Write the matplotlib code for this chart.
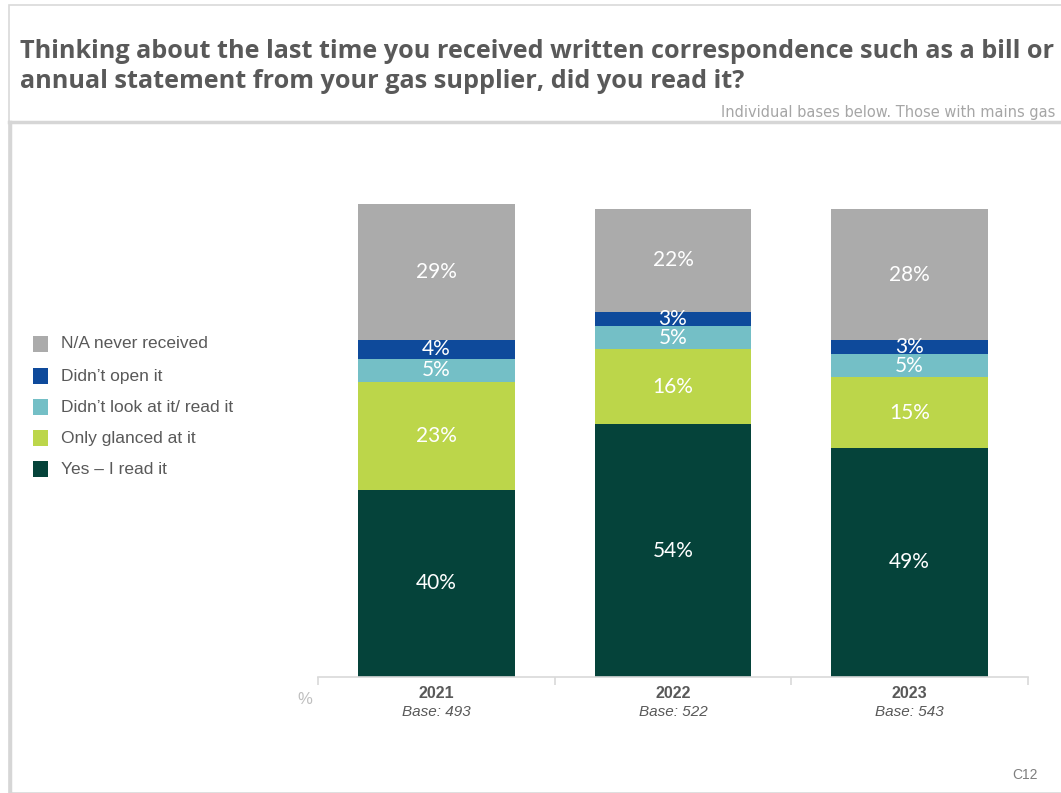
import matplotlib.pyplot as plt
from matplotlib.patches import Rectangle
from matplotlib.lines import Line2D

# survey data
years = ['2021', '2022', '2023']
bases = [493, 522, 543]
categories = ['Yes \u2013 I read it', 'Only glanced at it', 'Didn\u2019t look at it/ read it',
              'Didn\u2019t open it', 'N/A never received']
yes_read = [40, 54, 49]
glanced = [23, 16, 15]
not_looked = [5, 5, 5]
not_opened = [4, 3, 3]
never_received = [29, 22, 28]
colors = ['#05433A', '#BCD64A', '#74BFC6', '#0E4A9B', '#ABABAB']

series = [yes_read, glanced, not_looked, not_opened, never_received]

W, H = 1061, 793
fig = plt.figure(figsize=(W / 100, H / 100), dpi=100)

# frame around the slide content
fig.add_artist(Rectangle((8.5 / W, 0), (W - 8) / W, 1 - 5 / H, transform=fig.transFigure,
                         fill=False, edgecolor='#D9D9D9', linewidth=1.2))
fig.add_artist(Line2D([8.5 / W, 1], [1 - 122 / H, 1 - 122 / H], transform=fig.transFigure,
                      color='#D6D6D6', linewidth=2.5))
fig.add_artist(Line2D([9.5 / W, 9.5 / W], [0, 1 - 122 / H], transform=fig.transFigure,
                      color='#D6D6D6', linewidth=2.5))

# title
fig.text(20 / W, 1 - 52 / H,
         'Thinking about the last time you received written correspondence such as a bill or',
         fontsize=18.2, fontweight='bold', color='#595959', family='Open Sans', va='center')
fig.text(20 / W, 1 - 82 / H, 'annual statement from your gas supplier, did you read it?',
         fontsize=18.2, fontweight='bold', color='#595959', family='Open Sans', va='center')
fig.text(1055 / W, 1 - 112 / H, 'Individual bases below. Those with mains gas',
         fontsize=10.5, color='#A6A6A6', family='DejaVu Sans', ha='right', va='center')

ax = fig.add_axes([318 / W, 1 - 677 / H, 710 / W, 472.7 / H])

x = range(len(years))
bottom = [0, 0, 0]
for vals, col in zip(series, colors):
    ax.bar(x, vals, bottom=bottom, width=157 / 237, color=col, linewidth=0)
    for i, v in enumerate(vals):
        ax.text(i, bottom[i] + v / 2, f'{v}%', ha='center', va='center',
                color='white', fontsize=15, family='Lato')
    bottom = [b + v for b, v in zip(bottom, vals)]

ax.set_xlim(-0.5, 2.5)
ax.set_ylim(0, 101)
ax.set_yticks([])
for s in ['top', 'right', 'left']:
    ax.spines[s].set_visible(False)
ax.spines['bottom'].set_color('#D9D9D9')
ax.spines['bottom'].set_linewidth(1.2)
ax.set_xticks([-0.5, 0.5, 1.5, 2.5])
ax.set_xticklabels([])
ax.tick_params(axis='x', length=6, color='#D9D9D9', width=1.2)

for i, (yr, b) in enumerate(zip(years, bases)):
    ax.annotate(yr, (i, 0), xytext=(0, -12), textcoords='offset points', ha='center',
                va='center', fontsize=11.5, fontweight='bold', color='#595959',
                family='Liberation Sans')
    ax.annotate(f'Base: {b}', (i, 0), xytext=(0, -25.5), textcoords='offset points',
                ha='center', va='center', fontsize=11, style='italic', color='#595959',
                family='Liberation Sans')

fig.text(305 / W, 1 - 700 / H, '%', fontsize=12, color='#BFBFBF', family='Liberation Sans',
         ha='center', va='center')
fig.text(1025 / W, 1 - 775 / H, 'C12', fontsize=10, color='#7F7F7F', family='Liberation Sans',
         ha='center', va='center')

# legend, top entry first
legend_y = [344, 376, 407, 438, 469]
for lbl, col, yy in zip(categories[::-1], colors[::-1], legend_y):
    fig.add_artist(Rectangle((33 / W, 1 - (yy + 8) / H), 15 / W, 16 / H,
                             transform=fig.transFigure, facecolor=col, edgecolor='none'))
    fig.text(61 / W, 1 - yy / H, lbl, fontsize=12.5, color='#595959',
             family='Liberation Sans', va='center')

fig.savefig('out.png', dpi=100)
